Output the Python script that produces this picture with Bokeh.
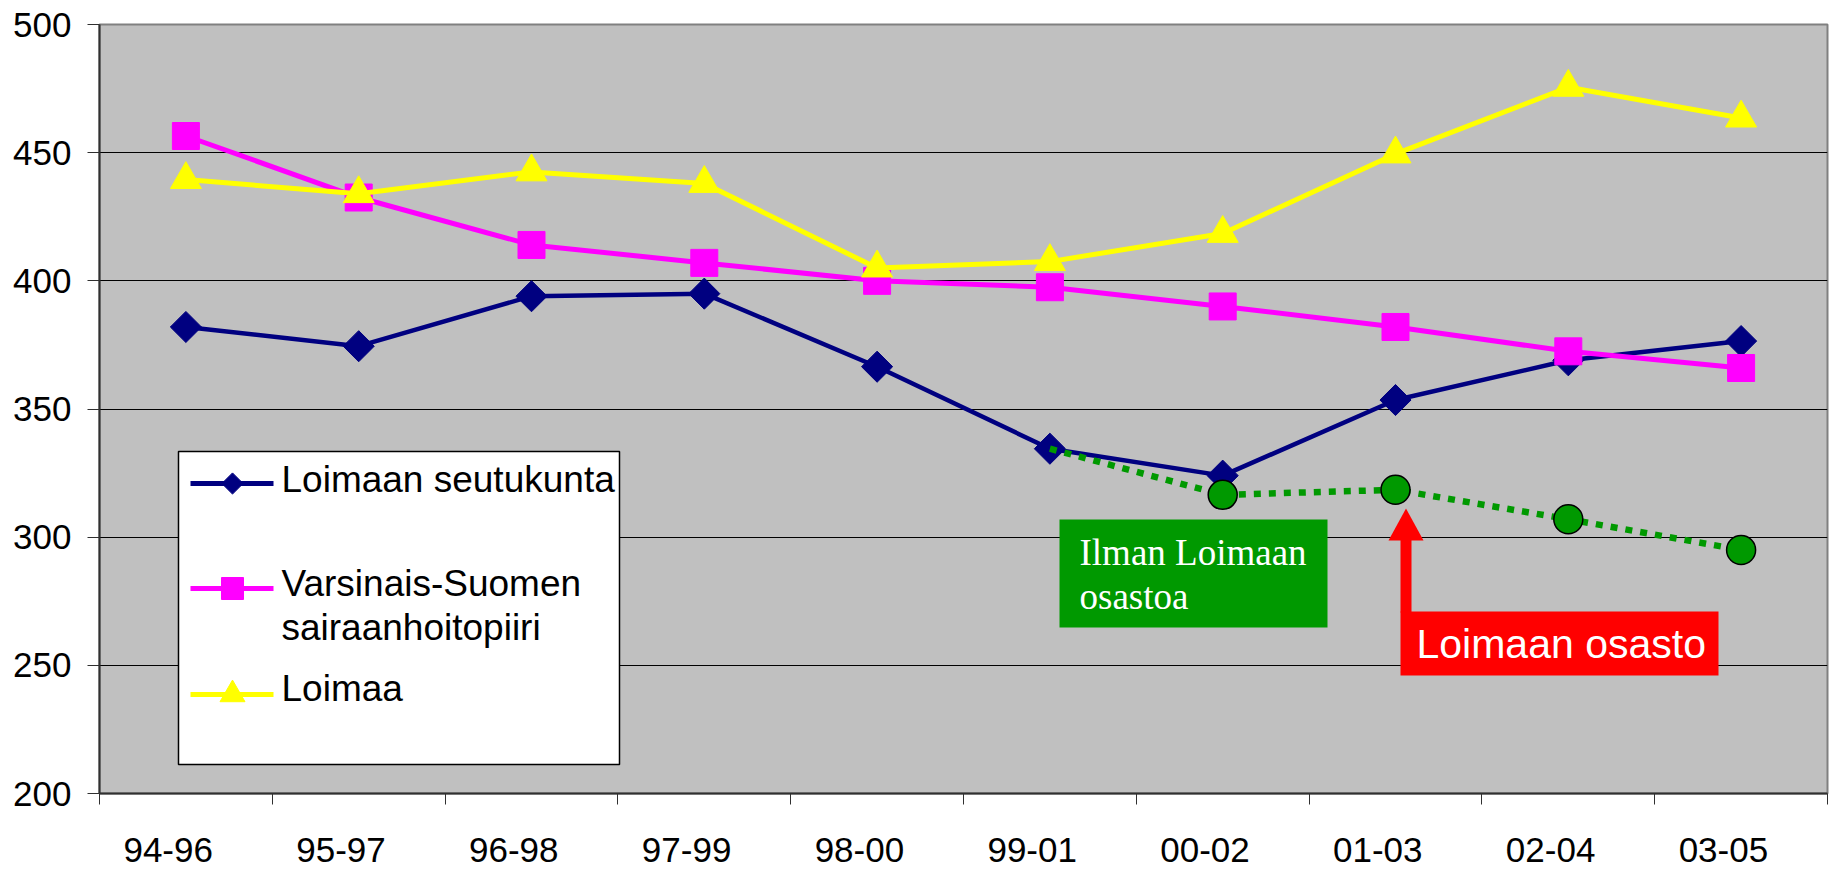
import math
from bokeh.plotting import figure
from bokeh.models import (Range1d, FixedTicker, Label, BoxAnnotation, PolyAnnotation,
                          CustomJSTickFormatter)
from bokeh.embed import file_html
from bokeh.resources import INLINE

# ---------------- data ----------------
periods = ["94-96", "95-97", "96-98", "97-99", "98-00",
           "99-01", "00-02", "01-03", "02-04", "03-05"]
seutukunta = [382, 374.5, 394, 395, 366.5, 334.5, 324, 353.5, 369, 376.5]
vsshp = [456.5, 432.5, 414, 407, 400, 397.5, 390, 382, 372.5, 366]
loimaa = [439.5, 434, 442.5, 438, 405, 407.5, 418.5, 449.5, 475.5, 463.5]
ilman_periods = ["99-01", "00-02", "01-03", "02-04", "03-05"]
ilman = [334.5, 316.5, 318.5, 307, 295]
y_ticks = [200, 250, 300, 350, 400, 450, 500]

series_names = ["Loimaan seutukunta", "Varsinais-Suomen\nsairaanhoitopiiri", "Loimaa"]
note_green = ["Ilman Loimaan", "osastoa"]
note_red = "Loimaan osasto"

# ---------------- layout helpers (page pixels -> data coords) ----------------
W, H = 1839, 874
FL, FR, FT, FB = 99.0, 1827.0, 24.0, 793.0
Y0, Y1 = 200, 500
N = len(periods)


def px_x(px):
    return (px - FL) / (FR - FL) * N


def px_y(py):
    return Y1 - (py - FT) / (FB - FT) * (Y1 - Y0)


def base_y(py, size):
    # Label's "alphabetic" baseline sits a little lower than the true baseline
    return px_y(py - 0.36 * size)


idx = {c: i + 0.5 for i, c in enumerate(periods)}
xs = [idx[c] for c in periods]
xs_ilman = [idx[c] for c in ilman_periods]

SANS = "Liberation Sans"
SERIF = "Liberation Serif"

p = figure(width=W, height=H, output_backend="svg", toolbar_location=None,
           x_range=Range1d(0, N), y_range=Range1d(Y0, Y1))
p.min_border_left = int(FL)
p.min_border_top = int(FT)
p.min_border_right = int(W - FR)
p.min_border_bottom = int(H - FB)

p.background_fill_color = "#C0C0C0"
p.border_fill_color = "white"
p.outline_line_color = "#808080"
p.outline_line_width = 2

# y axis
p.yaxis.ticker = FixedTicker(ticks=y_ticks)
p.yaxis.major_label_text_font = SANS
p.yaxis.major_label_text_font_size = "35px"
p.yaxis.major_label_text_color = "black"
p.yaxis.major_label_standoff = 16
p.yaxis.major_tick_out = 12
p.yaxis.major_tick_in = 0
p.yaxis.minor_tick_line_color = None
p.yaxis.axis_line_color = "#303030"
p.yaxis.axis_line_width = 2
p.yaxis.major_tick_line_color = "#303030"

# x axis: minor ticks at category boundaries, labels slightly left of the centres
label_shift = px_x(FL - 17.7)
label_pos = [idx[c] + label_shift for c in periods]
p.xaxis.ticker = FixedTicker(ticks=label_pos, minor_ticks=list(range(N + 1)))
p.xaxis.formatter = CustomJSTickFormatter(args=dict(labels=periods), code="return labels[index]")
p.xaxis.major_label_text_font = SANS
p.xaxis.major_label_text_font_size = "35px"
p.xaxis.major_label_text_color = "black"
p.xaxis.major_label_standoff = 33
p.xaxis.major_tick_out = 0
p.xaxis.major_tick_in = 0
p.xaxis.major_tick_line_color = None
p.xaxis.minor_tick_out = 11
p.xaxis.minor_tick_in = 0
p.xaxis.minor_tick_line_color = "#303030"
p.xaxis.minor_tick_line_width = 1
p.xaxis.axis_line_color = "#303030"
p.xaxis.axis_line_width = 2

p.xgrid.grid_line_color = None
p.ygrid.grid_line_color = "black"
p.ygrid.grid_line_width = 1

NAVY, MAG, YEL, GRN = "#000080", "#FF00FF", "#FFFF00", "#009900"

# series
p.line(xs, seutukunta, line_color=NAVY, line_width=4.5)
p.scatter(xs, seutukunta, marker="square", size=22, angle=math.pi / 4,
          fill_color=NAVY, line_color=NAVY)
p.line(xs, vsshp, line_color=MAG, line_width=5)
p.scatter(xs, vsshp, marker="square", size=27, fill_color=MAG, line_color=MAG)
p.line(xs, loimaa, line_color=YEL, line_width=5)
p.scatter(xs, loimaa, marker="triangle", size=31, fill_color=YEL, line_color=YEL)
p.line(xs_ilman, ilman, line_color=GRN, line_width=6.5, line_dash="7 8")
p.scatter(xs_ilman[1:], ilman[1:], marker="circle", size=29, fill_color=GRN,
          line_color="black", line_width=1.5)

# legend (drawn manually)
p.quad(left=[px_x(178)], right=[px_x(619)], top=[px_y(451)], bottom=[px_y(764)],
       fill_color="white", line_color="black", line_width=1.5)
leg_y = [483, 588, 694]
leg_styles = [(NAVY, "square", 15, math.pi / 4), (MAG, "square", 22, 0), (YEL, "triangle", 25, 0)]
for (col, mk, sz, ang), ly in zip(leg_styles, leg_y):
    p.line([px_x(190), px_x(273)], [px_y(ly), px_y(ly)], line_color=col, line_width=5)
    p.scatter([px_x(232)], [px_y(ly)], marker=mk, size=sz, angle=ang,
              fill_color=col, line_color=col)
leg_text_base = [[492], [596, 640], [701]]
for name, bases in zip(series_names, leg_text_base):
    for line_txt, b in zip(name.split("\n"), bases):
        p.add_layout(Label(x=px_x(281), y=base_y(b, 37), text=line_txt,
                           text_baseline="alphabetic",
                           text_font=SANS, text_font_size="37px", text_color="black"))

# green note
p.add_layout(BoxAnnotation(left=px_x(1059), right=px_x(1327), top=px_y(519), bottom=px_y(627),
                           fill_color=GRN, fill_alpha=1, line_color=None))
for t, b in zip(note_green, [565, 609]):
    p.add_layout(Label(x=px_x(1079), y=base_y(b, 37), text=t, text_baseline="alphabetic",
                       text_font=SERIF, text_font_size="37px", text_color="white"))

# red note with arrow
p.add_layout(BoxAnnotation(left=px_x(1400), right=px_x(1718), top=px_y(611), bottom=px_y(675),
                           fill_color="#FF0000", fill_alpha=1, line_color=None))
p.add_layout(BoxAnnotation(left=px_x(1400), right=px_x(1411), top=px_y(538), bottom=px_y(612),
                           fill_color="#FF0000", fill_alpha=1, line_color=None))
p.add_layout(PolyAnnotation(xs=[px_x(1388), px_x(1423), px_x(1405.5)],
                            ys=[px_y(540), px_y(540), px_y(508)],
                            fill_color="#FF0000", fill_alpha=1, line_color=None))
p.add_layout(Label(x=px_x(1416), y=base_y(658, 41), text=note_red, text_baseline="alphabetic",
                   text_font=SANS, text_font_size="41px", text_color="white"))

open("out.html", "w").write(file_html(p, INLINE))
